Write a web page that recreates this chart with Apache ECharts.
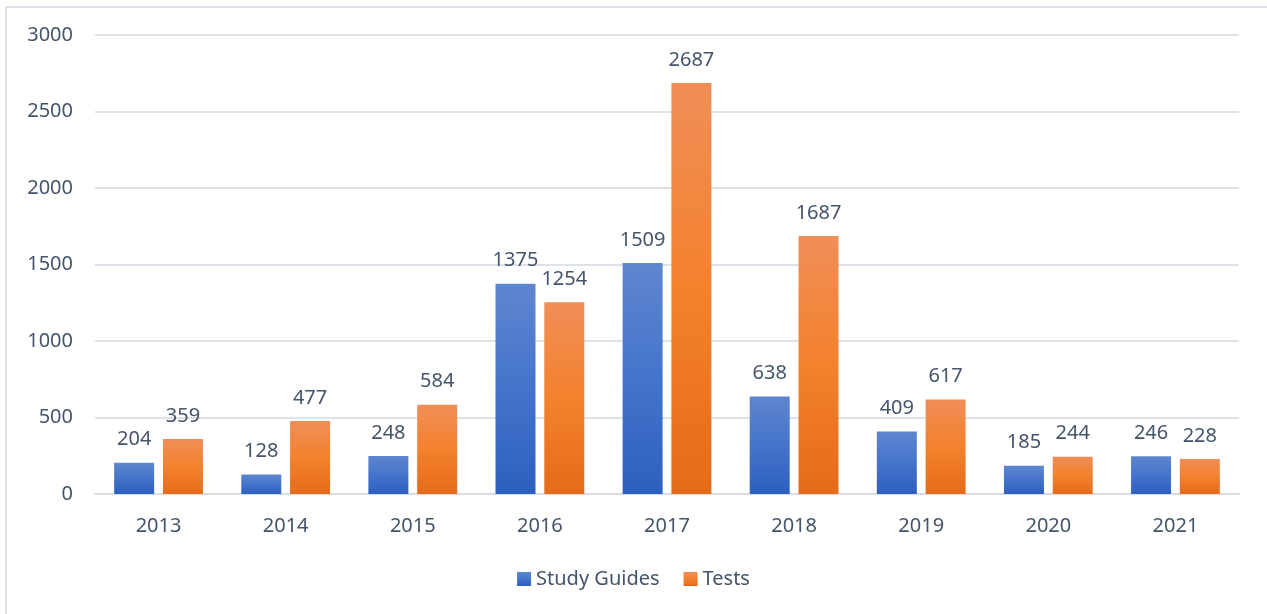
<!DOCTYPE html>
<html>
<head>
<meta charset="utf-8">
<script src="https://cdn.jsdelivr.net/npm/echarts@6/dist/echarts.min.js"></script>
<style>
  html, body { margin: 0; padding: 0; background: #fff; }
  #chart { width: 1267px; height: 614px; }
</style>
</head>
<body>
<div id="chart"></div>
<script>
const years = ["2013", "2014", "2015", "2016", "2017", "2018", "2019", "2020", "2021"];
const studyGuides = [204, 128, 248, 1375, 1509, 638, 409, 185, 246];
const tests = [359, 477, 584, 1254, 2687, 1687, 617, 244, 228];

const textColor = "#44546a";
const font = "'Noto Sans', 'Open Sans', sans-serif";
const fs = 20;

const grad = (top, mid, bottom) =>
  new echarts.graphic.LinearGradient(0, 0, 0, 1, [
    { offset: 0, color: top },
    { offset: 0.5, color: mid },
    { offset: 1, color: bottom }
  ]);

const chart = echarts.init(document.getElementById("chart"));

const labelStyle = {
  show: true,
  position: "top",
  distance: 13,
  color: textColor,
  fontSize: fs,
  fontFamily: font
};

chart.setOption({
  animation: false,
  graphic: [
    {
      type: "polyline",
      shape: { points: [[6, 614], [6, 7], [1267, 7]] },
      style: { stroke: "#dde2e8", lineWidth: 2, fill: null }
    }
  ],
  legend: {
    bottom: 20,
    left: "center",
    itemWidth: 14,
    itemHeight: 14,
    itemGap: 24,
    textStyle: { color: textColor, fontSize: fs, fontFamily: font },
    data: [
      { name: "Study Guides", icon: "rect" },
      { name: "Tests", icon: "rect" }
    ]
  },
  grid: {
    left: 95,
    right: 28,
    top: 35,
    bottom: 120
  },
  xAxis: {
    type: "category",
    data: years,
    axisLine: { lineStyle: { color: "#d9dde3", width: 2 } },
    axisTick: { show: false },
    axisLabel: { color: textColor, fontSize: fs, fontFamily: font, margin: 22 }
  },
  yAxis: {
    type: "value",
    min: 0,
    max: 3000,
    interval: 500,
    axisLine: { show: false },
    axisTick: { show: false },
    axisLabel: {
      color: textColor,
      fontSize: fs,
      fontFamily: font,
      margin: 22,
      formatter: v => String(v)
    },
    splitLine: { lineStyle: { color: "#dde2e8", width: 2 } }
  },
  series: [
    {
      name: "Study Guides",
      type: "bar",
      data: studyGuides,
      barWidth: 40,
      barGap: "22%",
      itemStyle: { color: grad("#5f86cf", "#4474cb", "#2d5fbe") },
      label: labelStyle
    },
    {
      name: "Tests",
      type: "bar",
      data: tests,
      barWidth: 40,
      itemStyle: { color: grad("#f08e58", "#f4812d", "#e46b1a") },
      label: labelStyle
    }
  ]
});
</script>
</body>
</html>
